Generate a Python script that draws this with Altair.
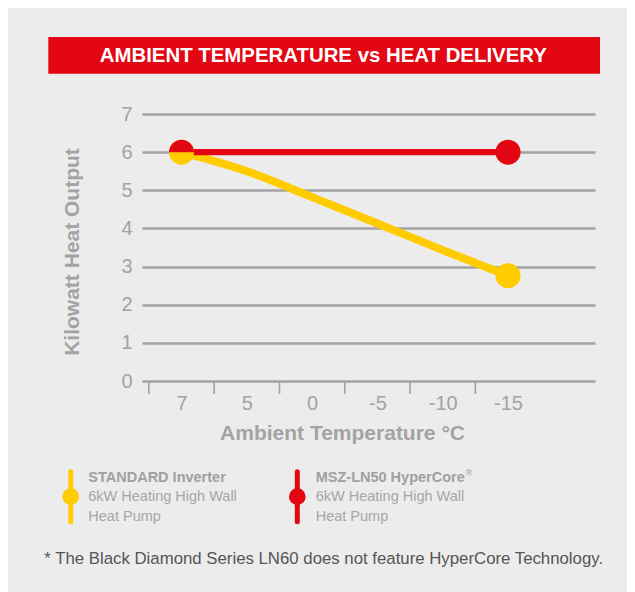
import json
import altair as alt
import pandas as pd

# ---------------- data ----------------
temps = ["7", "5", "0", "-5", "-10", "-15"]          # x categories (°C)
cat_idx = [0, 1, 2, 3, 4, 5]                          # category positions
standard_kw = [6.0, 5.5, 4.82, 4.13, 3.43, 2.76]      # STANDARD Inverter
hyper_idx = [0, 5]                                    # HyperCore points (7 and -15)
hyper_kw = [6.0, 6.0]
y_ticks = [0, 1, 2, 3, 4, 5, 6, 7]
tick_bounds = [-0.5, 0.5, 1.5, 2.5, 3.5, 4.5]         # tick marks between categories

title_text = "AMBIENT TEMPERATURE vs HEAT DELIVERY"
x_title = "Ambient Temperature °C"
y_title = "Kilowatt Heat Output"
legend_std = ["STANDARD Inverter", "6kW Heating High Wall", "Heat Pump"]
legend_hyp = ["MSZ-LN50 HyperCore", "6kW Heating High Wall", "Heat Pump"]
footnote = "* The Black Diamond Series LN60 does not feature HyperCore Technology."

# ---------------- style ----------------
RED = "#e30613"
YEL = "#ffcc00"
GRID = "#a2a2a2"
LBL = "#a3a3a3"
LEG = "#a6a6a6"
FOOT = "#555555"
BG = "#ececec"
FONT = "Liberation Sans"

W, H = 453, 267
PAD = {"left": 134, "top": 106, "right": 32, "bottom": 211}

one = pd.DataFrame({"k": [0]})

xscale = alt.Scale(domain=[-0.605, 6.332], nice=False, zero=False)
yscale = alt.Scale(domain=[0, 7], nice=False)

label_expr = json.dumps(temps).replace('"', "'") + "[datum.value]"

xaxis = alt.Axis(values=cat_idx, labelExpr=label_expr, grid=False, ticks=False, tickSize=0,
                 domain=False, labelPadding=28, labelBaseline="alphabetic", labelFontSize=20,
                 labelColor=LBL, labelFont=FONT, labelFlush=False, labelOverlap=False,
                 title=x_title, titleFontSize=21, titleFontWeight="bold", titleColor=LBL,
                 titleFont=FONT, titleX=200, titleY=58.5, titleAlign="center",
                 titleBaseline="alphabetic", titleAnchor="start")
yaxis = alt.Axis(values=y_ticks, grid=True, gridColor=GRID, gridWidth=2.6, gridOpacity=1,
                 domain=False, ticks=False, tickSize=0, labelPadding=10, labelFontSize=20,
                 labelColor=LBL, labelFont=FONT, labelFlush=False,
                 title=y_title, titleFontSize=21, titleFontWeight="bold", titleColor=LBL,
                 titleFont=FONT, titleAngle=270, titleX=-63.5, titleY=137.5,
                 titleAlign="center", titleBaseline="alphabetic", titleAnchor="start")

xenc = alt.X("idx:Q", scale=xscale, axis=xaxis)
yenc = alt.Y("kw:Q", scale=yscale, axis=yaxis)

std_df = pd.DataFrame({"idx": cat_idx, "kw": standard_kw, "temp": temps})
hyp_df = pd.DataFrame({"idx": hyper_idx, "kw": hyper_kw})
tick_df = pd.DataFrame({"idx": tick_bounds})


def txt(s, x, y, size, color, weight="normal", align="left"):
    return alt.Chart(one).mark_text(
        text=s, fontSize=size, color=color, font=FONT, fontWeight=weight,
        align=align, baseline="alphabetic"
    ).encode(x=alt.value(x), y=alt.value(y))


title_bar = alt.Chart(one).mark_rect(color=RED).encode(
    x=alt.value(-93.7), x2=alt.value(458), y=alt.value(-77), y2=alt.value(-40.3))
title_lbl = txt(title_text, 181.3, -52.3, 20.4, "white", "bold", "center")

ticks = alt.Chart(tick_df).mark_rule(color=GRID, strokeWidth=1.6).encode(
    x=xenc, y=alt.value(H), y2=alt.value(H + 13))

std_line = alt.Chart(std_df).mark_line(color=YEL, strokeWidth=8, interpolate="monotone").encode(
    x=xenc, y=yenc)
hyp_line = alt.Chart(hyp_df).mark_line(color=RED, strokeWidth=6.3).encode(x=xenc, y=yenc)

std_pts = alt.Chart(std_df.iloc[[0, 5]]).mark_point(
    filled=True, opacity=1, size=625, shape="circle", color=YEL).encode(x=xenc, y=yenc)
hyp_end = alt.Chart(hyp_df.iloc[[1]]).mark_point(
    filled=True, opacity=1, size=625, shape="circle", color=RED).encode(x=xenc, y=yenc)
hyp_start = alt.Chart(hyp_df.iloc[[0]]).mark_point(
    filled=True, opacity=1, size=625, shape="M-1,0A1,1,0,0,1,1,0Z", color=RED).encode(x=xenc, y=yenc)


# legend (custom)
def leg_symbol(xp, col):
    rule = alt.Chart(one).mark_rule(color=col, strokeWidth=5, strokeCap="round").encode(
        x=alt.value(xp), y=alt.value(357.7), y2=alt.value(407.7))
    dot = alt.Chart(one).mark_point(filled=True, opacity=1, size=280, shape="circle",
                                    color=col).encode(x=alt.value(xp), y=alt.value(382.7))
    return [rule, dot]


legend_layers = leg_symbol(-71.3, YEL) + leg_symbol(155.3, RED)
for xs, lines in ((-53.7, legend_std), (173.7, legend_hyp)):
    legend_layers.append(txt(lines[0], xs, 367.5, 14.5, "#a0a0a0", "bold"))
    legend_layers.append(txt(lines[1], xs, 387.0, 14.5, LEG))
    legend_layers.append(txt(lines[2], xs, 406.5, 14.5, LEG))
legend_layers.append(txt("®", 323.5, 362.0, 9, "#a0a0a0"))

foot = txt(footnote, -97.7, 449.7, 16.8, FOOT)

chart = alt.layer(
    title_bar, title_lbl, ticks, std_line, hyp_line, std_pts, hyp_end, hyp_start,
    *legend_layers, foot
).properties(
    width=W, height=H, padding=PAD, autosize=alt.AutoSizeParams(type="none"),
    background=BG
).configure_view(stroke=None)

chart.save("out.html", embed_options={"renderer": "svg", "actions": False})
